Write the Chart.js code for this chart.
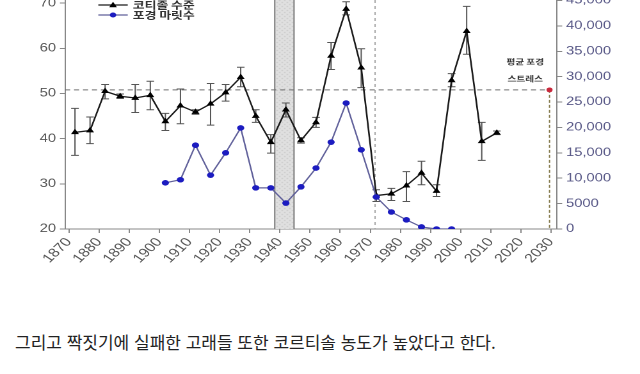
<!DOCTYPE html>
<html lang="ko">
<head>
<meta charset="utf-8">
<script src="https://cdn.jsdelivr.net/npm/chart.js@4.4.1/dist/chart.umd.min.js"></script>
<style>
  html, body { margin:0; padding:0; background:#fff; width:640px; height:374px; overflow:hidden; }
  /* the source image is stretched sideways, so the chart is drawn narrow and widened */
  #wrap { position:absolute; left:0; top:-10px; width:500px; height:290px; transform:scaleX(1.28); transform-origin:0 0; }
  #caption { position:absolute; left:15px; top:329px; font-family:"Noto Sans CJK KR", sans-serif; font-size:17px; color:#222; white-space:nowrap; }
</style>
</head>
<body>
<div id="wrap"><canvas id="chart"></canvas></div>
<div id="caption">그리고 짝짓기에 실패한 고래들 또한 코르티솔 농도가 높았다고 한다.</div>
<script>
// --- data ---
const years = [1872, 1877, 1882, 1887, 1892, 1897, 1902, 1907, 1912, 1917, 1922, 1927, 1932, 1937, 1942,
               1947, 1952, 1957, 1962, 1967, 1972, 1977, 1982, 1987, 1992, 1997, 2002, 2007, 2012];
const cortisol =     [41.4, 41.8, 50.5, 49.4, 49.0, 49.6, 43.8, 47.3, 45.9, 47.7, 50.2, 53.6, 45.0, 39.2, 46.4,
                      39.6, 43.6, 58.3, 68.7, 55.7, 27.4, 27.8, 29.6, 32.4, 28.4, 52.9, 63.8, 39.4, 41.3];
const cortisolLow =  [36.3, 38.9, 48.8, 48.9, 45.8, 46.4, 41.8, 43.3, 45.4, 43.0, 48.3, 51.5, 43.6, 36.8, 44.8,
                      39.0, 42.5, 55.3, 67.4, 51.3, 26.1, 26.3, 26.1, 29.8, 27.2, 51.5, 58.7, 35.2, 40.9];
const cortisolHigh = [46.7, 44.8, 52.0, 49.9, 52.0, 52.7, 45.6, 51.0, 46.4, 52.2, 52.0, 55.8, 46.4, 40.9, 47.9,
                      40.2, 44.7, 61.3, 70.3, 59.9, 28.7, 29.0, 32.7, 35.0, 29.8, 54.4, 69.3, 43.6, 41.7];

const whalingYears  = [1902, 1907, 1912, 1917, 1922, 1927, 1932, 1937, 1942, 1947,
                       1952, 1957, 1962, 1967, 1972, 1977, 1982, 1987, 1992, 1997];
const whalingCounts = [9100, 9700, 16500, 10600, 15000, 19900, 8100, 8100, 5100, 8300,
                       12000, 17100, 24800, 15600, 6300, 3350, 1800, 400, 0, 0];

const xTicks = [1870, 1880, 1890, 1900, 1910, 1920, 1930, 1940, 1950, 1960, 1970, 1980, 1990, 2000, 2010, 2020, 2030];
const leftTicks = [20, 30, 40, 50, 60, 70];
const rightTicks = [0, 5000, 10000, 15000, 20000, 25000, 30000, 35000, 40000, 45000];

const warYears = [1938.3, 1944.7];
const protectYear = 1971.6;
const stressYear = [2029.5];
const stressLevel = [50.8];

const seriesNames = ['코티졸 수준', '포경 마릿수'];
const stressNote = ['평균 포경', '스트레스'];

const FONT = '"Liberation Sans", Arial, sans-serif';
const KFONT = '"Noto Sans CJK KR", sans-serif';

function bandPattern(ctx){
  const c = document.createElement('canvas'); c.width = 4; c.height = 4;
  const g = c.getContext('2d');
  g.fillStyle = '#e0e0e0'; g.fillRect(0,0,4,4);
  g.fillStyle = '#c2c2c2'; g.fillRect(0,0,1,1); g.fillRect(2,2,1,1);
  return ctx.createPattern(c, 'repeat');
}

const decor = {
  id: 'decor',
  beforeDatasetsDraw(chart){
    const {ctx, chartArea:a, scales:{x, y}} = chart;
    ctx.save();
    // WWII band
    const b0 = x.getPixelForValue(warYears[0]), b1 = x.getPixelForValue(warYears[1]);
    ctx.fillStyle = bandPattern(ctx);
    ctx.fillRect(b0, a.top, b1-b0, a.bottom-a.top);
    ctx.strokeStyle = '#777'; ctx.lineWidth = 1;
    ctx.beginPath(); ctx.moveTo(b0, a.top); ctx.lineTo(b0, a.bottom); ctx.moveTo(b1, a.top); ctx.lineTo(b1, a.bottom); ctx.stroke();

    // protection year
    const px = x.getPixelForValue(protectYear);
    ctx.setLineDash([3,3]); ctx.strokeStyle = '#a8a8a8';
    ctx.beginPath(); ctx.moveTo(px, a.top); ctx.lineTo(px, a.bottom); ctx.stroke();

    // mean stress level
    const sx = x.getPixelForValue(stressYear[0]), sy = y.getPixelForValue(stressLevel[0]);
    ctx.setLineDash([4,3]); ctx.strokeStyle = '#707070';
    ctx.beginPath(); ctx.moveTo(a.left, sy); ctx.lineTo(sx, sy); ctx.stroke();
    ctx.setLineDash([3,2]); ctx.strokeStyle = '#857a4c';
    ctx.beginPath(); ctx.moveTo(sx, sy); ctx.lineTo(sx, a.bottom); ctx.stroke();
    ctx.setLineDash([]);

    // error bars
    ctx.strokeStyle = '#555'; ctx.lineWidth = 1;
    years.forEach((yr, i) => {
      const ex = x.getPixelForValue(yr);
      const lo = y.getPixelForValue(cortisolLow[i]), hi = y.getPixelForValue(cortisolHigh[i]);
      ctx.beginPath();
      ctx.moveTo(ex, lo); ctx.lineTo(ex, hi);
      ctx.moveTo(ex-3, lo); ctx.lineTo(ex+3, lo);
      ctx.moveTo(ex-3, hi); ctx.lineTo(ex+3, hi);
      ctx.stroke();
    });
    ctx.restore();
  },
  afterDraw(chart){
    const {ctx, chartArea:a, scales:{x, y}} = chart;
    ctx.save();
    // legend
    const lx = a.left + 26, rows = [a.top + 5, a.top + 15];
    const styles = [{line:'#1a1a1a', pt:'#000', tri:true}, {line:'#60609a', pt:'#1c1cc0', tri:false}];
    rows.forEach((ry, i) => {
      const s = styles[i];
      ctx.strokeStyle = s.line; ctx.lineWidth = 1.2;
      ctx.beginPath(); ctx.moveTo(lx, ry); ctx.lineTo(lx+23, ry); ctx.stroke();
      ctx.fillStyle = s.pt;
      ctx.beginPath();
      if (s.tri){ ctx.moveTo(lx+11.5, ry-3.2); ctx.lineTo(lx+14.5, ry+2.2); ctx.lineTo(lx+8.5, ry+2.2); ctx.closePath(); }
      else ctx.arc(lx+11.5, ry, 2.5, 0, Math.PI*2);
      ctx.fill();
      ctx.fillStyle = '#333'; ctx.font = 'bold 10px ' + KFONT; ctx.textBaseline = 'middle';
      ctx.fillText(seriesNames[i], lx + 27, ry);
    });
    // note above the mean stress point
    const sx = x.getPixelForValue(stressYear[0]), sy = y.getPixelForValue(stressLevel[0]);
    ctx.fillStyle = '#333'; ctx.font = 'bold 7.5px ' + KFONT; ctx.textAlign = 'center';
    ctx.fillText(stressNote[0], sx - 19, sy - 28);
    ctx.fillText(stressNote[1], sx - 19, sy - 11);
    ctx.restore();
  }
};

const axisGrid = { drawOnChartArea:false, drawTicks:true, tickLength:4, color:'#888' };

new Chart(document.getElementById('chart'), {
  type: 'line',
  data: {
    datasets: [
      {
        label: seriesNames[1],
        data: whalingYears.map((yr, i) => ({x: yr, y: whalingCounts[i]})),
        yAxisID: 'y1', order: 0,
        borderColor: '#60609a', borderWidth: 1.2,
        pointStyle: 'circle', pointRadius: 2.8,
        pointBackgroundColor: '#1c1cc0', pointBorderColor: '#1c1cc0', pointBorderWidth: 0
      },
      {
        label: seriesNames[0],
        data: years.map((yr, i) => ({x: yr, y: cortisol[i]})),
        yAxisID: 'y', order: 1,
        borderColor: '#1a1a1a', borderWidth: 1.3,
        pointStyle: 'triangle', pointRadius: 3.6,
        pointBackgroundColor: '#000', pointBorderColor: '#000', pointBorderWidth: 0
      },
      {
        type: 'scatter',
        data: stressYear.map((yr, i) => ({x: yr, y: stressLevel[i]})),
        yAxisID: 'y', order: 0,
        pointRadius: 2.4, pointBackgroundColor: '#c8283c', pointBorderWidth: 0
      }
    ]
  },
  options: {
    responsive: true, maintainAspectRatio: false, animation: false,
    devicePixelRatio: 2,
    layout: { padding: { top: 10, left: 0, right: 0, bottom: 0 } },
    plugins: { legend: { display:false }, tooltip: { enabled:false } },
    elements: { line: { tension: 0 } },
    scales: {
      x: {
        type: 'linear', min: 1868.7, max: 2032,
        afterBuildTicks: s => { s.ticks = xTicks.map(v => ({value: v})); },
        afterFit: s => { s.height = 51; },
        ticks: { autoSkip:false, minRotation:50, maxRotation:50, padding:2, color:'#555',
                 font:{family:FONT, size:12.5}, callback: v => String(v) },
        grid: axisGrid, border: { color:'#888' }
      },
      y: {
        position: 'left', min: 20, max: 70.7,
        afterBuildTicks: s => { s.ticks = leftTicks.map(v => ({value: v})); },
        afterFit: s => { s.width = 50.8; },
        ticks: { padding:3, color:'#555', font:{family:FONT, size:11.5} },
        grid: axisGrid, border: { color:'#888' }
      },
      y1: {
        position: 'right', min: 0, max: 45100,
        afterBuildTicks: s => { s.ticks = rightTicks.map(v => ({value: v})); },
        afterFit: s => { s.width = 64.8; },
        ticks: { padding:3, color:'#5a5a88', font:{family:FONT, size:11.5},
                 callback: v => v >= 10000 ? v.toLocaleString('en-US') : String(v) },
        grid: axisGrid, border: { color:'#888' }
      }
    }
  },
  plugins: [decor]
});
</script>
</body>
</html>
